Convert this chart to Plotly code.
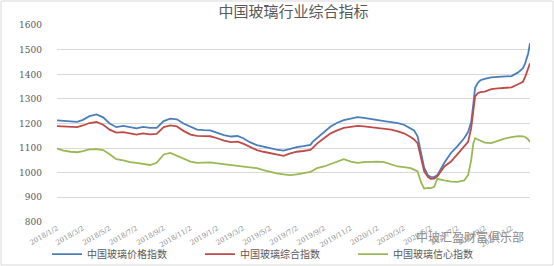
import plotly.graph_objects as go

dates = [
    "2018-01-02", "2018-01-17", "2018-02-02", "2018-02-17", "2018-03-02", "2018-03-17",
    "2018-04-02", "2018-04-17", "2018-05-02", "2018-05-17", "2018-06-02", "2018-06-17",
    "2018-07-02", "2018-07-17", "2018-08-02", "2018-08-17", "2018-09-02", "2018-09-17",
    "2018-10-02", "2018-10-17", "2018-11-02", "2018-11-17", "2018-12-02", "2018-12-17",
    "2019-01-02", "2019-01-17", "2019-02-02", "2019-02-17", "2019-03-02", "2019-03-17",
    "2019-04-02", "2019-04-17", "2019-05-02", "2019-05-17", "2019-06-02", "2019-06-17",
    "2019-07-02", "2019-07-17", "2019-08-02", "2019-08-07", "2019-08-17", "2019-09-02",
    "2019-09-17", "2019-10-02", "2019-10-17", "2019-11-02", "2019-11-17", "2019-12-02",
    "2019-12-17", "2020-01-02", "2020-01-17", "2020-02-02", "2020-02-17", "2020-03-02",
    "2020-03-17", "2020-03-25", "2020-04-02", "2020-04-10", "2020-04-17", "2020-04-26",
    "2020-05-02", "2020-05-10", "2020-05-17", "2020-06-02", "2020-06-17", "2020-07-02",
    "2020-07-17", "2020-07-26", "2020-08-02", "2020-08-07", "2020-08-11", "2020-08-17",
    "2020-08-23", "2020-09-02", "2020-09-17", "2020-10-02", "2020-10-17", "2020-11-02",
    "2020-11-17", "2020-11-28", "2020-12-03", "2020-12-10", "2020-12-14",
]

price_index = [
    1213, 1212, 1208, 1207, 1215, 1230, 1237, 1225, 1200, 1185, 1190, 1186,
    1180, 1186, 1182, 1182, 1210, 1220, 1217, 1200, 1186, 1175, 1173, 1172,
    1162, 1153, 1147, 1149, 1140, 1124, 1112, 1105, 1098, 1094, 1090, 1098,
    1104, 1108, 1113, 1125, 1140, 1167, 1188, 1203, 1214, 1220, 1226, 1223,
    1218, 1214, 1210, 1206, 1202, 1195, 1181, 1172, 1148, 1085, 1020, 988,
    983, 982, 990, 1040, 1080, 1108, 1140, 1165, 1205, 1280, 1345, 1365,
    1376, 1382, 1388, 1390, 1390, 1393, 1408, 1425, 1445, 1486, 1527,
]

composite_index = [
    1189, 1188, 1185, 1185, 1192, 1202, 1206, 1195, 1175, 1163, 1165, 1160,
    1155, 1160, 1156, 1158, 1185, 1192, 1188, 1170, 1155, 1150, 1150, 1148,
    1140, 1130, 1124, 1126, 1118, 1104, 1092, 1085, 1080, 1073, 1068, 1078,
    1085, 1088, 1093, 1100, 1118, 1140, 1160, 1172, 1182, 1186, 1190, 1188,
    1185, 1182, 1180, 1175, 1168, 1160, 1145, 1135, 1120, 1065, 1005, 982,
    975, 976, 985, 1025, 1045, 1075, 1105, 1125, 1180, 1265, 1310, 1323,
    1328, 1330, 1340, 1343, 1345, 1347, 1360, 1370, 1390, 1420, 1445,
]

confidence_index = [
    1098, 1090, 1085, 1083, 1088, 1095, 1096, 1092, 1075, 1055, 1050, 1043,
    1040, 1035, 1031, 1040, 1074, 1080, 1068, 1058, 1045, 1040, 1040, 1042,
    1038, 1035, 1030, 1028, 1025, 1022, 1018, 1010, 1003, 997, 993, 990,
    993, 998, 1003, 1008, 1018, 1025, 1035, 1043, 1055, 1045, 1040, 1043,
    1045, 1045, 1043, 1033, 1025, 1022, 1018, 1012, 1005, 960, 935, 938,
    937, 942, 975, 968, 963, 962, 968, 990, 1050, 1120, 1140, 1135,
    1130, 1122, 1120, 1130, 1138, 1145, 1149, 1148, 1145, 1135, 1125,
]

series_names = ["中国玻璃价格指数", "中国玻璃综合指数", "中国玻璃信心指数"]
series_colors = ["#4A7EBB", "#BE4B48", "#98B954"]

tick_dates = [
    "2018-01-02", "2018-03-02", "2018-05-02", "2018-07-02", "2018-09-02", "2018-11-02",
    "2019-01-02", "2019-03-02", "2019-05-02", "2019-07-02", "2019-09-02", "2019-11-02",
    "2020-01-02", "2020-03-02", "2020-05-02", "2020-07-02", "2020-09-02", "2020-11-02",
]
tick_labels = [
    "2018/1/2", "2018/3/2", "2018/5/2", "2018/7/2", "2018/9/2", "2018/11/2",
    "2019/1/2", "2019/3/2", "2019/5/2", "2019/7/2", "2019/9/2", "2019/11/2",
    "2020/1/2", "2020/3/2", "2020/5/2", "2020/7/2", "2020/9/2", "2020/11/2",
]
y_ticks = [800, 900, 1000, 1100, 1200, 1300, 1400, 1500, 1600]

title_text = "中国玻璃行业综合指标"
watermark_text = "中玻汇盈财富俱乐部"

fig = go.Figure()
for name, vals, col in zip(series_names, [price_index, composite_index, confidence_index], series_colors):
    fig.add_trace(go.Scatter(x=dates, y=vals, name=name, mode="lines",
                             line=dict(color=col, width=1.8)))

W, H = 554, 266
L, R, T, B = 57, 24, 25, 44
pw, ph = W - L - R, H - T - B

fig.update_layout(
    width=W, height=H,
    margin=dict(l=L, r=R, t=T, b=B, autoexpand=False),
    paper_bgcolor="white", plot_bgcolor="white",
    showlegend=True,
    legend=dict(orientation="h", x=0.5 - 17 / pw, xanchor="center", yref="container", y=0.045,
                yanchor="middle",
                font=dict(family="Noto Sans CJK SC", size=10, color="#595959"),
                entrywidth=108, itemwidth=30, bgcolor="rgba(0,0,0,0)"),
    title=dict(text=title_text, x=0.5, xanchor="center", xref="paper", y=1 - 12 / H, yanchor="middle",
               font=dict(family="Noto Sans CJK SC", size=15, color="#595959")),
    xaxis=dict(type="date", range=["2018-01-02", "2020-12-14"], tickmode="array",
               tickvals=tick_dates, ticktext=tick_labels, tickangle=-30,
               tickfont=dict(family="DejaVu Serif", size=7, color="#8C8C8C"),
               showgrid=False, zeroline=False, showline=False, ticks="", ticklen=3),
    yaxis=dict(range=[799, 1601], tickvals=y_ticks, ticktext=[str(v) for v in y_ticks],
               tickfont=dict(family="DejaVu Serif", size=9, color="#595959"),
               showgrid=True, gridcolor="#D9D9D9", gridwidth=1, zeroline=False, showline=False,
               ticklabelstandoff=14),
)

fig.add_shape(type="rect", xref="paper", yref="paper",
              x0=(1 - L) / pw, x1=(W - 1 - L) / pw,
              y0=-(H - 1 - (T + ph)) / ph, y1=(T + ph - 1) / ph,
              line=dict(color="#D9D9D9", width=1), fillcolor="rgba(0,0,0,0)", layer="below")

fig.add_annotation(text=watermark_text, xref="paper", yref="paper",
                   x=(470 - L) / pw, y=(T + ph - 236) / ph, xanchor="center", yanchor="middle",
                   showarrow=False,
                   font=dict(family="Noto Sans CJK SC", size=12, color="#8C8C8C"))

fig.write_html("out.html")
